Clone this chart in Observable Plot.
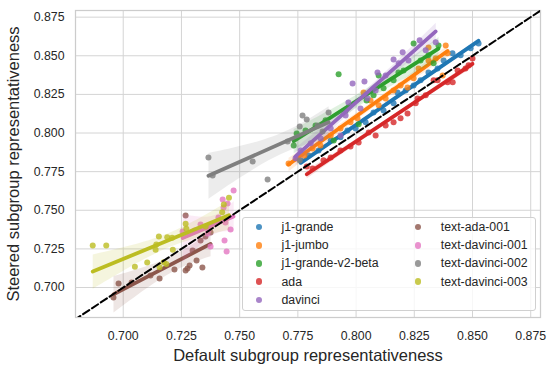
<!DOCTYPE html>
<html><head><meta charset="utf-8">
<script src="https://cdn.jsdelivr.net/npm/d3@7"></script>
<script src="https://cdn.jsdelivr.net/npm/@observablehq/plot@0.6"></script>
<style>
body{margin:0;background:#fff;}
#wrap{position:relative;width:555px;height:372px;font-family:"Liberation Sans",Arial,sans-serif;}
#legend{position:absolute;left:241.5px;top:217px;width:294px;height:94px;box-sizing:border-box;border:1px solid #d0d0d0;border-radius:3px;background:rgba(255,255,255,0.8);display:grid;grid-template-columns:159.3px auto;grid-template-rows:repeat(5,18.2px);grid-auto-flow:column;padding-top:0;}
.item{display:flex;align-items:center;font-size:12.3px;color:#262626;white-space:nowrap;}
.mk{width:6.5px;height:6.5px;border-radius:50%;margin-left:13px;margin-right:19.5px;opacity:.8;flex:none;}
</style></head>
<body><div id="wrap"></div>
<script>
const seriesNames = ["j1-grande","j1-jumbo","j1-grande-v2-beta","ada","davinci","text-ada-001","text-davinci-001","text-davinci-002","text-davinci-003"];
const colors = ["#1f77b4","#ff7f0e","#2ca02c","#d62728","#9467bd","#8c564b","#e377c2","#7f7f7f","#bcbd22"];
const xTicks = [0.700,0.725,0.750,0.775,0.800,0.825,0.850,0.875];
const yTicks = [0.700,0.725,0.750,0.775,0.800,0.825,0.850,0.875];
const xLabel = "Default subgroup representativeness";
const yLabel = "Steered subgroup representativeness";
const diagonal = [0.66, 0.90];

const j1Grande = [[0.7762,0.7823],[0.7796,0.7855],[0.7839,0.7887],[0.7891,0.7952],[0.7933,0.7972],[0.7963,0.8017],[0.7998,0.8030],[0.8041,0.8069],[0.8075,0.8133],[0.8118,0.8146],[0.8161,0.8192],[0.8178,0.8263],[0.8213,0.8276],[0.8247,0.8308],[0.8277,0.8341],[0.8311,0.8392],[0.8350,0.8418],[0.8376,0.8470],[0.8414,0.8516],[0.8449,0.8503],[0.8492,0.8548],[0.8526,0.8580]];
const j1Jumbo = [[0.7710,0.7803],[0.7744,0.7836],[0.7778,0.7855],[0.7813,0.7900],[0.7847,0.7920],[0.7891,0.7984],[0.7933,0.8030],[0.7976,0.8069],[0.8006,0.8095],[0.8032,0.8263],[0.8062,0.8211],[0.8097,0.8179],[0.8127,0.8224],[0.8161,0.8276],[0.8191,0.8308],[0.8221,0.8295],[0.8247,0.8354],[0.8268,0.8418],[0.8311,0.8470],[0.8311,0.8554],[0.8342,0.8483],[0.8372,0.8373],[0.8393,0.8516],[0.8385,0.8567]];
const j1GrandeV2Beta = [[0.7732,0.7920],[0.7745,0.7997],[0.7783,0.8017],[0.7826,0.8049],[0.7869,0.8082],[0.7904,0.7952],[0.7925,0.8380],[0.7955,0.8146],[0.8011,0.8056],[0.8045,0.8211],[0.8075,0.8244],[0.8097,0.8373],[0.8118,0.8289],[0.8161,0.8341],[0.8182,0.8392],[0.8204,0.8405],[0.8247,0.8580],[0.8277,0.8470],[0.8311,0.8503],[0.8333,0.8451],[0.8354,0.8567]];
const ada = [[0.7788,0.7784],[0.7813,0.7771],[0.7860,0.7823],[0.7891,0.7842],[0.7933,0.7887],[0.7976,0.7913],[0.8011,0.7939],[0.8054,0.8004],[0.8084,0.7984],[0.8127,0.8049],[0.8161,0.8069],[0.8191,0.8095],[0.8221,0.8127],[0.8256,0.8192],[0.8264,0.8224],[0.8299,0.8244],[0.8333,0.8341],[0.8350,0.8341],[0.8393,0.8328],[0.8415,0.8328],[0.8436,0.8405],[0.8470,0.8418],[0.8483,0.8438],[0.8500,0.8483]];
const davinci = [[0.7740,0.7836],[0.7762,0.7887],[0.7805,0.7933],[0.7848,0.7965],[0.7891,0.8030],[0.7933,0.7984],[0.7955,0.8114],[0.7967,0.8198],[0.7985,0.8321],[0.8019,0.8159],[0.8036,0.8334],[0.8049,0.8224],[0.8084,0.8276],[0.8092,0.8392],[0.8127,0.8373],[0.8161,0.8476],[0.8183,0.8451],[0.8200,0.8522],[0.8225,0.8470],[0.8273,0.8600],[0.8299,0.8535],[0.8342,0.8587]];
const textAda001 = [[0.6958,0.6935],[0.6980,0.7026],[0.7036,0.7032],[0.7117,0.7078],[0.7156,0.7058],[0.7220,0.7117],[0.7268,0.7110],[0.7276,0.7123],[0.7285,0.7142],[0.7315,0.7175],[0.7340,0.7130],[0.7298,0.7240],[0.7268,0.7466],[0.7332,0.7304],[0.7353,0.7330],[0.7375,0.7356]];
const textDavinci001 = [[0.7474,0.7628],[0.7427,0.7570],[0.7448,0.7544],[0.7431,0.7518],[0.7409,0.7453],[0.7439,0.7421],[0.7461,0.7376],[0.7435,0.7304],[0.7375,0.7266],[0.7444,0.7233],[0.7366,0.7369],[0.7255,0.7363],[0.7307,0.7369],[0.7362,0.7350],[0.7332,0.7408]];
const textDavinci002 = [[0.7366,0.7842],[0.7384,0.7725],[0.7556,0.7816],[0.7620,0.7699],[0.7706,0.7945],[0.7770,0.8114],[0.7788,0.8088],[0.7758,0.8043],[0.7758,0.7822],[0.7835,0.8049],[0.7882,0.8133],[0.7856,0.8010]];
const textDavinci003 = [[0.6869,0.7272],[0.6927,0.7272],[0.7050,0.7134],[0.7103,0.7162],[0.7139,0.7244],[0.7142,0.7279],[0.7153,0.7330],[0.7213,0.7244],[0.7185,0.7153],[0.7156,0.7131],[0.7268,0.7413],[0.7271,0.7380],[0.7210,0.7322],[0.7425,0.7488],[0.7432,0.7538],[0.7454,0.7581],[0.7189,0.7326],[0.7174,0.7164],[0.7354,0.7395]];

const seriesPoints = [j1Grande,j1Jumbo,j1GrandeV2Beta,ada,davinci,textAda001,textDavinci001,textDavinci002,textDavinci003];
const rows = seriesNames.flatMap((name,i)=>seriesPoints[i].map(([x,y])=>({series:name,x,y})));

const marks = [
  Plot.gridX({ticks:xTicks, stroke:"#d4d4d4", strokeOpacity:1}),
  Plot.gridY({ticks:yTicks, stroke:"#d4d4d4", strokeOpacity:1}),
  Plot.frame({stroke:"#cccccc", strokeWidth:1.25})
];
seriesNames.forEach((name,i)=>{
  const d = rows.filter(r=>r.series===name);
  marks.push(Plot.dot(d,{x:"x",y:"y",r:3,fill:colors[i],fillOpacity:0.8}));
  marks.push(Plot.linearRegressionY(d,{x:"x",y:"y",stroke:colors[i],strokeWidth:3.8,fillOpacity:0.15,ci:0.95}));
});
marks.push(Plot.line(diagonal.map(v=>({v})),{x:"v",y:"v",stroke:"black",strokeWidth:2,strokeDasharray:"7.4,3.2",clip:true}));
marks.push(Plot.axisX({ticks:xTicks,tickFormat:d3.format(".3f"),tickSize:0,tickPadding:13.5,fontSize:12.3,label:null}));
marks.push(Plot.axisY({ticks:yTicks,tickFormat:d3.format(".3f"),tickSize:0,tickPadding:11,fontSize:12.3,label:null}));
marks.push(Plot.text([xLabel],{text:d=>d,frameAnchor:"bottom",dy:38.7,fontSize:16.5,textAnchor:"middle",lineAnchor:"middle"}));
marks.push(Plot.text([yLabel],{text:d=>d,frameAnchor:"left",dx:-62,rotate:-90,fontSize:16.5,textAnchor:"middle",lineAnchor:"middle"}));

const chart = Plot.plot({
  width:555, height:372,
  marginLeft:75, marginRight:15, marginTop:10, marginBottom:55,
  x:{domain:[0.6795,0.8792]},
  y:{domain:[0.6806,0.8793]},
  style:{fontFamily:"'Liberation Sans', Arial, sans-serif", color:"#262626", background:"white"},
  marks
});
const wrap = document.getElementById("wrap");
wrap.appendChild(chart);

const legend = document.createElement("div");
legend.id = "legend";
seriesNames.forEach((name,i)=>{
  const item = document.createElement("div");
  item.className = "item";
  const mk = document.createElement("span");
  mk.className = "mk";
  mk.style.background = colors[i];
  const lb = document.createElement("span");
  lb.textContent = name;
  item.appendChild(mk); item.appendChild(lb);
  legend.appendChild(item);
});
wrap.appendChild(legend);
</script>
</body></html>
